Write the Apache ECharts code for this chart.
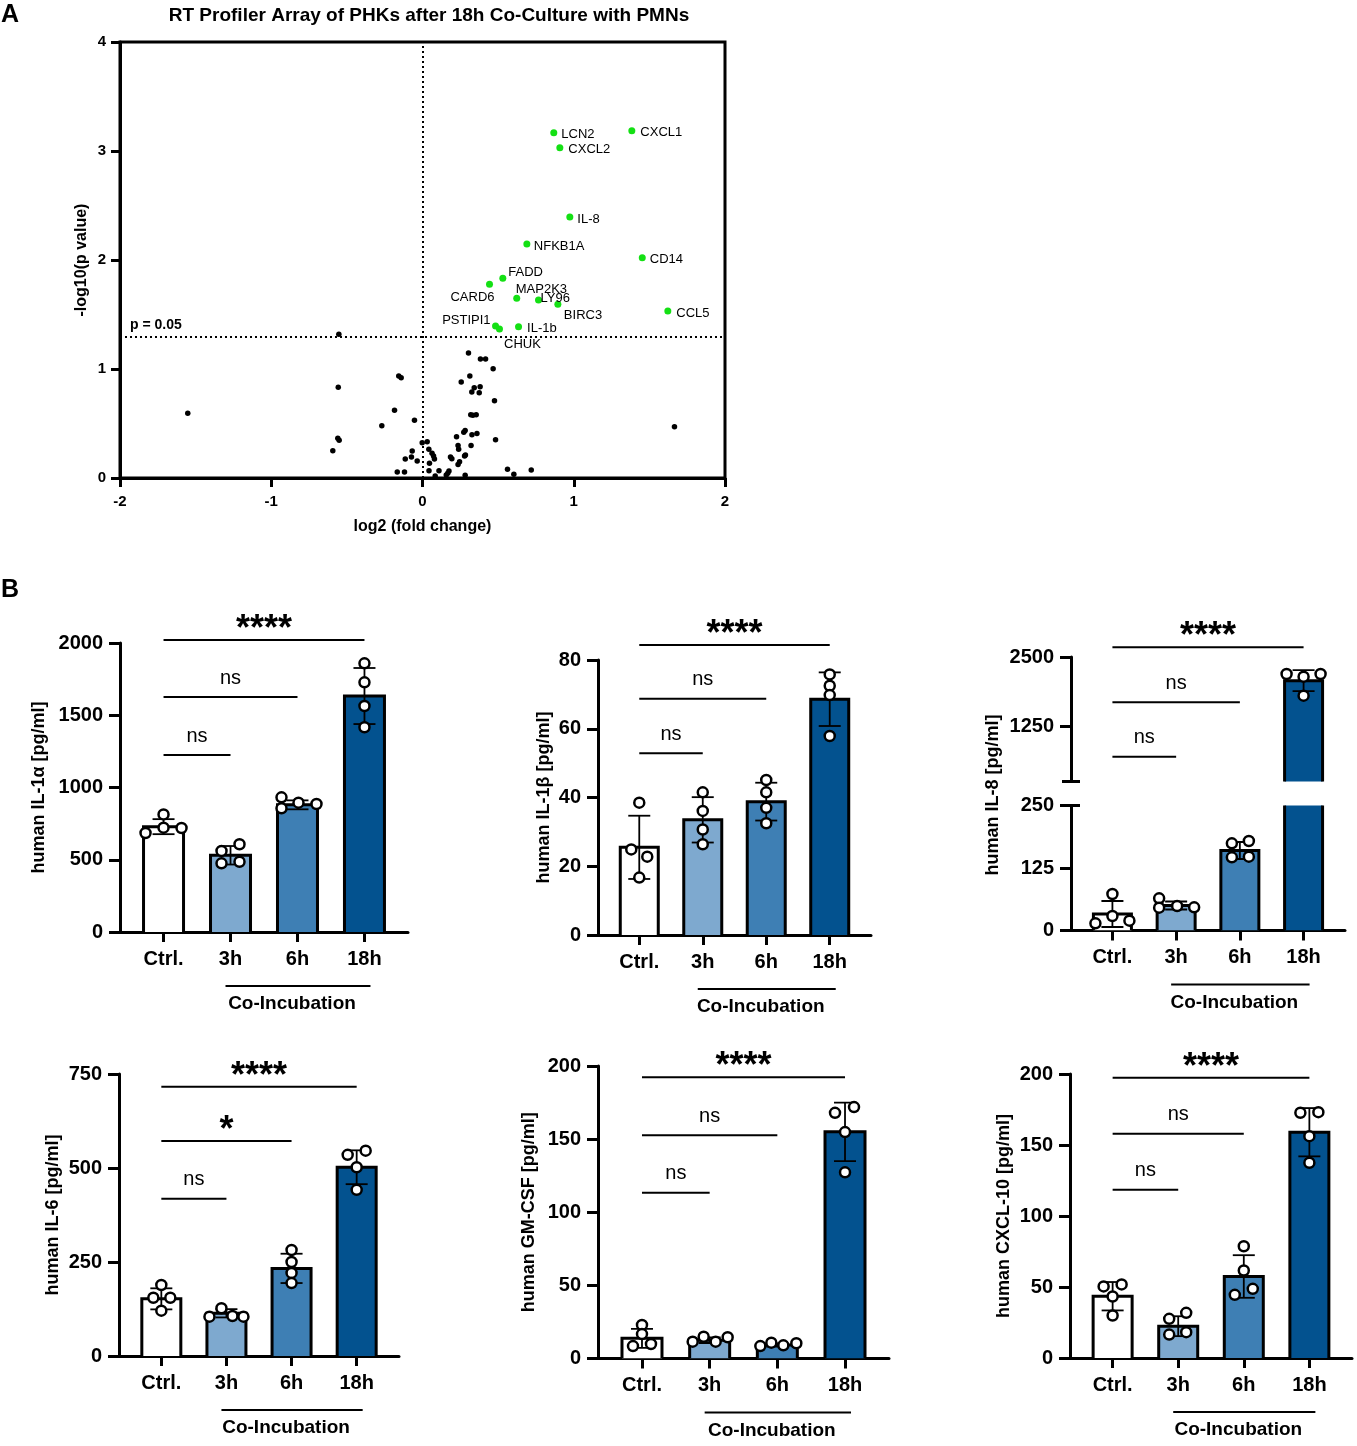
<!DOCTYPE html>
<html><head><meta charset="utf-8">
<script src="https://cdn.jsdelivr.net/npm/echarts@6/dist/echarts.min.js"></script>
<style>html,body{margin:0;padding:0;background:#fff}#c{width:1357px;height:1446px}</style>
</head><body><div id="c"></div>
<script>
// ===================== DATA =====================
// Panel A: volcano plot
const sigGenes   = ['LCN2','CXCL1','CXCL2','IL-8','NFKB1A','CD14','FADD','CARD6','MAP2K3','LY96','BIRC3','CCL5','PSTIPI1','CHUK','IL-1b'];
const sigLog2FC  = [0.868,1.384,0.908,0.974,0.690,1.453,0.531,0.443,0.623,0.767,0.895,1.622,0.483,0.509,0.635];
const sigNegLogP = [3.168,3.186,3.030,2.394,2.147,2.021,1.832,1.777,1.649,1.633,1.594,1.532,1.394,1.367,1.388];
const nsLog2FC = [-0.553,-0.557,-1.552,-0.157,-0.141,-0.185,-0.269,-0.053,-0.560,-0.551,-0.593,-0.068,-0.114,-0.073,-0.035,-0.167,-0.119,
  -0.002,0.031,0.042,0.063,0.073,0.079,0.046,0.043,0.084,0.109,0.157,0.175,0.167,0.185,0.194,0.225,0.282,0.273,0.235,0.239,0.278,0.284,
  0.321,0.327,0.360,0.245,0.235,0.282,0.483,0.562,0.604,0.719,1.666,0.304,0.383,0.417,0.467,0.313,0.256,0.381,0.342,0.326,0.375,0.476,
  0.319,0.355,0.333];
const nsNegLogP = [1.318,0.832,0.594,0.936,0.920,0.621,0.480,0.529,0.364,0.346,0.250,0.248,0.174,0.193,0.156,0.055,0.055,
  0.324,0.333,0.263,0.227,0.202,0.174,0.135,0.067,0.018,0.067,0.028,0.064,0.043,0.193,0.177,0.379,0.436,0.419,0.298,0.264,0.202,0.211,
  0.298,0.397,0.408,0.150,0.124,0.025,0.351,0.080,0.034,0.073,0.471,1.147,1.092,1.092,1.003,0.936,0.881,0.838,0.828,0.789,0.783,0.709,
  0.581,0.581,0.575];
const pThreshold = 1.301; // -log10(0.05)

// Panel B: cytokines (groups: Ctrl., 3h, 6h, 18h)
const groups = ['Ctrl.','3h','6h','18h'];

const il1aMean = [729, 531, 880, 1633];
const il1aSD   = [52, 64, 31, 194];
const il1aPts  = [[685,814,722,720],[561,607,475,486],[932,856,895,886],[1859,1728,1564,1417]];
const il1aSig  = [[0,3,2021,'****'],[0,2,1626,'ns'],[0,1,1225,'ns']];

const il1bMean = [25.5, 33.5, 38.8, 68.6];
const il1bSD   = [9.2, 6.6, 5.5, 7.8];
const il1bPts  = [[38.5,24.9,22.8,16.7],[41.5,36.1,30.7,26.4],[45.1,41.5,37.0,32.5],[75.8,72.5,69.8,57.9]];
const il1bSig  = [[0,3,84.4,'****'],[0,2,68.7,'ns'],[0,1,52.9,'ns']];

const il8Mean = [33, 50, 160, 2072];
const il8SD   = [26, 8, 17, 190];
const il8Pts  = [[73,29,14.4,19.6],[64.4,45.6,49,46.4],[174.4,179,146.4,147.6],[2193,2144,2193,1801]];
const il8Sig  = [[0,3,2675,'****'],[0,2,1681,'ns'],[0,1,698,'ns']];

const il6Mean = [152, 113.6, 233, 502];
const il6SD   = [28, 11, 39, 45];
const il6Pts  = [[188.9,155,155,120.5],[126.9,104.6,106.4,104.6],[282,250,221,194],[535,546,502,442]];
const il6Sig  = [[0,3,716,'****'],[0,2,572,'*'],[0,1,418,'ns']];

const gmcsfMean = [13.8, 12.5, 9.2, 155];
const gmcsfSD   = [6.5, 1.9, 1.1, 20];
const gmcsfPts  = [[22.9,16.7,8.5,9.9],[11.5,14.9,11.5,14.5],[8.5,10.8,9.0,10.4],[168,171.9,154.8,127.3]];
const gmcsfSig  = [[0,3,192.3,'****'],[0,2,152.6,'ns'],[0,1,113.4,'ns']];

const cxcl10Mean = [43.5, 22.4, 57.4, 159];
const cxcl10SD   = [10, 7, 15, 17];
const cxcl10Pts  = [[50.4,51.8,43.3,29.9],[31.8,27.6,16.5,18.2],[78.7,61.6,44.5,48.7],[172.7,173.1,156.2,137.5]];
const cxcl10Sig  = [[0,3,197.3,'****'],[0,2,157.9,'ns'],[0,1,118.4,'ns']];

// ===================== STYLE / LAYOUT =====================
const FONT = '"Liberation Sans", Arial, Helvetica, sans-serif';
const BAR_COLORS = ['#ffffff','#7ea9cf','#3e7fb4','#03528f'];
const XMIN = -0.65, XMAX = 3.65;
const plainNum = v => String(v);

// horizontal jitter of individual points (pixels)
const jitter = {
  il1a:  [[-18,0,0,18],[-9,9,-9,9],[-16,-16,1,19],[0,0,0,0]],
  il1b:  [[0,-8,8,0],[0,0,0,0],[0,0,0,0],[0,0,0,0]],
  il8:   [[0,0,-17,17],[-17,-17,1,18],[-8,9,-8,9],[-17,0,17,0]],
  il6:   [[0,-8,9,0],[-5,-17,6,17],[0,0,0,0],[-9,9,0,0]],
  gmcsf: [[0,0,-9,9],[-17,-6,6,18],[-17,-6,6,19],[-10,9,0,0]],
  cxcl10:[[-9,9,0,0],[8,-9,-9,8],[0,0,-9,9],[-9,9,0,0]]
};

const volcanoLabelPlacement = {
  'LCN2':['right',[-1,1.5]], 'CXCL1':['right',[0,2]], 'CXCL2':['right',[0,1.5]], 'IL-8':['right',[-1,2]],
  'NFKB1A':['right',[-1.5,2]], 'CD14':['right',[-1,2]], 'FADD':['right',[-3,-6]], 'CARD6':['left',[13.5,13]],
  'MAP2K3':['right',[-9.5,-9]], 'LY96':['right',[-6.5,-2]], 'BIRC3':['right',[-2.5,11]], 'CCL5':['right',[0,2]],
  'PSTIPI1':['left',[3.5,-6]], 'CHUK':['bottom',[23,0]], 'IL-1b':['right',[0,2]]
};

const grids = [], xAxes = [], yAxes = [], series = [];

// ---------- Panel A ----------
grids.push({left:120, top:42, width:605, height:436, show:true, borderColor:'#000', borderWidth:3, backgroundColor:'rgba(0,0,0,0)'});
xAxes.push({type:'value', gridIndex:0, min:-2, max:2, interval:1,
  name:'log2 (fold change)', nameLocation:'middle', nameGap:41,
  nameTextStyle:{fontSize:16, fontWeight:'bold', color:'#000', fontFamily:FONT},
  axisLine:{show:true, onZero:false, lineStyle:{color:'#000', width:3}},
  axisTick:{show:true, length:9, lineStyle:{color:'#000', width:3}},
  axisLabel:{fontSize:15, fontWeight:'bold', color:'#000', margin:16, fontFamily:FONT},
  splitLine:{show:false}});
yAxes.push({type:'value', gridIndex:0, min:0, max:4, interval:1,
  name:'-log10(p value)', nameLocation:'middle', nameGap:30,
  nameTextStyle:{fontSize:16, fontWeight:'bold', color:'#000', fontFamily:FONT},
  axisLine:{show:true, onZero:false, lineStyle:{color:'#000', width:3}},
  axisTick:{show:true, length:9, lineStyle:{color:'#000', width:3}},
  axisLabel:{fontSize:15, fontWeight:'bold', color:'#000', margin:14, fontFamily:FONT},
  splitLine:{show:false}});
series.push({type:'scatter', xAxisIndex:0, yAxisIndex:0, z:3,
  data: nsLog2FC.map((x,i)=>[x, nsNegLogP[i]]),
  symbolSize:5.5, itemStyle:{color:'#000', opacity:1},
  markLine:{silent:true, symbol:['none','none'], animation:false,
    lineStyle:{type:[2,3], color:'#000', width:2},
    label:{show:false},
    data:[{xAxis:0},
      {yAxis:pThreshold, label:{show:true, formatter:'p = 0.05', position:'insideStartTop', distance:4,
        fontWeight:'bold', fontSize:14, color:'#000', fontFamily:FONT, padding:[0,0,0,6]}}]}
});
series.push({type:'scatter', xAxisIndex:0, yAxisIndex:0, z:4,
  data: sigGenes.map((g,i)=>{
    const pl = volcanoLabelPlacement[g];
    return {name:g, value:[sigLog2FC[i], sigNegLogP[i]], label:{position:pl[0], offset:pl[1]}};
  }),
  symbolSize:7, itemStyle:{color:'#14e014', opacity:1},
  label:{show:true, formatter:'{b}', fontSize:13, color:'#000', distance:5, fontFamily:FONT}
});

// ---------- Panel B helpers ----------
function makeBarRender(barW){
  return function(params, api){
    const x = api.value(0), v = api.value(1);
    const p = api.coord([x, v]);
    const b = api.coord([x, 0]);
    const hw = barW/2;
    return {type:'group', children:[
      {type:'rect', shape:{x:p[0]-hw, y:p[1], width:hw*2, height:b[1]-p[1]}, style:{fill:BAR_COLORS[params.dataIndex]}},
      {type:'polyline', shape:{points:[[p[0]-hw,b[1]],[p[0]-hw,p[1]],[p[0]+hw,p[1]],[p[0]+hw,b[1]]]},
        style:{stroke:'#000', lineWidth:3, fill:'none'}}
    ]};
  };
}
function renderErr(params, api){
  const x = api.value(0), m = api.value(1), s = api.value(2);
  const t = api.coord([x, m+s]), b = api.coord([x, m-s]);
  const cw = 11, st = {stroke:'#000', lineWidth:1.8};
  return {type:'group', children:[
    {type:'line', shape:{x1:t[0], y1:t[1], x2:b[0], y2:b[1]}, style:st},
    {type:'line', shape:{x1:t[0]-cw, y1:t[1], x2:t[0]+cw, y2:t[1]}, style:st},
    {type:'line', shape:{x1:b[0]-cw, y1:b[1], x2:b[0]+cw, y2:b[1]}, style:st}
  ]};
}
function makeSigRender(sigArr){
  return function(params, api){
    const s = sigArr[params.dataIndex];
    const a = api.coord([s[0], s[2]]), c = api.coord([s[1], s[2]]);
    const isStar = s[3].indexOf('*') >= 0;
    return {type:'group', children:[
      {type:'line', shape:{x1:a[0], y1:a[1], x2:c[0], y2:c[1]}, style:{stroke:'#000', lineWidth:2}},
      {type:'text', x:(a[0]+c[0])/2, y:a[1] - (isStar ? 10 : 19),
        style:{text:s[3], align:'center', verticalAlign:'middle', fill:'#000',
          font: isStar ? ('bold 36px ' + FONT) : ('20px ' + FONT)}}
    ]};
  };
}
function makeDecorRender(ymin){
  return function(params, api){
    const a = api.coord([1, ymin]), c = api.coord([3, ymin]);
    const x1 = a[0]-5, x2 = c[0]+6, y = a[1] + 54;
    return {type:'group', children:[
      {type:'line', shape:{x1:x1, y1:y, x2:x2, y2:y}, style:{stroke:'#000', lineWidth:1.8}},
      {type:'text', x:(x1+x2)/2 - 6, y:y + 18,
        style:{text:'Co-Incubation', align:'center', verticalAlign:'middle', fill:'#000', font:'bold 19px ' + FONT}}
    ]};
  };
}
function makeBreakRender(xmin, yv){
  return function(params, api){
    const p = api.coord([xmin, yv]);
    return {type:'line', shape:{x1:p[0]-9, y1:p[1], x2:p[0]+9, y2:p[1]}, style:{stroke:'#000', lineWidth:3}};
  };
}

function xAxisCfg(gi, show){
  return {type:'value', gridIndex:gi, min:XMIN, max:XMAX, show:show,
    axisLine:{show:true, onZero:false, lineStyle:{color:'#000', width:3}},
    axisTick:{show:true, customValues:[0,1,2,3], length:10, lineStyle:{color:'#000', width:3}},
    axisLabel:{show:true, customValues:[0,1,2,3], formatter:v=>groups[Math.round(v)],
      fontSize:20, fontWeight:'bold', color:'#000', margin:17, fontFamily:FONT},
    splitLine:{show:false}};
}
function yAxisCfg(gi, min, max, interval, name, nameGap, custom){
  const c = {type:'value', gridIndex:gi, min:min, max:max,
    axisLine:{show:true, onZero:false, lineStyle:{color:'#000', width:3}},
    axisTick:{show:true, length:11, lineStyle:{color:'#000', width:3}},
    axisLabel:{fontSize:20, fontWeight:'bold', color:'#000', margin:17, fontFamily:FONT, formatter:plainNum},
    splitLine:{show:false}};
  if (interval) c.interval = interval;
  if (custom) { c.axisTick.customValues = custom; c.axisLabel.customValues = custom; }
  if (name) {
    c.name = name; c.nameLocation = 'middle'; c.nameGap = nameGap;
    c.nameTextStyle = {fontSize:18, fontWeight:'bold', color:'#000', fontFamily:FONT};
  }
  return c;
}
function addSeriesToGrid(ai, mean, sd, pts, jit, barW, opts){
  const barData = mean.map((m,i)=>[i, m]);
  series.push({type:'custom', xAxisIndex:ai, yAxisIndex:ai, z:2, clip:true,
    renderItem:makeBarRender(barW), data:barData});
  series.push({type:'custom', xAxisIndex:ai, yAxisIndex:ai, z:3, clip:true,
    renderItem:renderErr, data:mean.map((m,i)=>[i, m, sd[i]])});
  series.push({type:'scatter', xAxisIndex:ai, yAxisIndex:ai, z:4, clip:true,
    symbol:'circle', symbolSize:10,
    itemStyle:{color:'#fff', borderColor:'#000', borderWidth:2.5, opacity:1},
    data: pts.flatMap((arr,g)=>arr.map((v,k)=>({value:[g, v], symbolOffset:[jit[g][k], 0]})))});
  if (opts.sig) series.push({type:'custom', xAxisIndex:ai, yAxisIndex:ai, z:5, clip:false,
    renderItem:makeSigRender(opts.sig), data:opts.sig.map(s=>[s[0], s[2]])});
  if (opts.decor) series.push({type:'custom', xAxisIndex:ai, yAxisIndex:ai, z:5, clip:false,
    renderItem:makeDecorRender(opts.ymin), data:[[1, opts.ymin]]});
  if (opts.breakAt !== undefined) series.push({type:'custom', xAxisIndex:ai, yAxisIndex:ai, z:6, clip:false,
    renderItem:makeBreakRender(XMIN, opts.breakAt), data:[[XMIN, opts.breakAt]]});
}

// ---------- Standard panels ----------
const panels = [
  {name:'human IL-1\u03b1 [pg/ml]', mean:il1aMean, sd:il1aSD, pts:il1aPts, jit:jitter.il1a, sig:il1aSig,
   box:{left:120, top:643, width:288, height:289}, yMax:2000, yInt:500, nameGap:72, barW:40},
  {name:'human IL-1\u03b2 [pg/ml]', mean:il1bMean, sd:il1bSD, pts:il1bPts, jit:jitter.il1b, sig:il1bSig,
   box:{left:598, top:660, width:273, height:275}, yMax:80, yInt:20, nameGap:45, barW:38},
  {name:'human IL-6 [pg/ml]', mean:il6Mean, sd:il6SD, pts:il6Pts, jit:jitter.il6, sig:il6Sig,
   box:{left:119, top:1074, width:280, height:282}, yMax:750, yInt:250, nameGap:57, barW:39},
  {name:'human GM-CSF [pg/ml]', mean:gmcsfMean, sd:gmcsfSD, pts:gmcsfPts, jit:jitter.gmcsf, sig:gmcsfSig,
   box:{left:598, top:1066, width:291, height:292.5}, yMax:200, yInt:50, nameGap:60, barW:40},
  {name:'human CXCL-10 [pg/ml]', mean:cxcl10Mean, sd:cxcl10SD, pts:cxcl10Pts, jit:jitter.cxcl10, sig:cxcl10Sig,
   box:{left:1070, top:1074, width:282, height:284}, yMax:200, yInt:50, nameGap:57, barW:39}
];
panels.forEach(p=>{
  const gi = grids.length;
  grids.push(p.box);
  xAxes.push(xAxisCfg(gi, true));
  yAxes.push(yAxisCfg(gi, 0, p.yMax, p.yInt, p.name, p.nameGap));
  addSeriesToGrid(gi, p.mean, p.sd, p.pts, p.jit, p.barW, {sig:p.sig, decor:true, ymin:0});
});

// ---------- IL-8 panel with broken axis ----------
{
  const gb = grids.length;           // lower segment 0..250
  grids.push({left:1071, top:805.5, width:274, height:125});
  xAxes.push(xAxisCfg(gb, true));
  yAxes.push(yAxisCfg(gb, 0, 250, 125, null));
  addSeriesToGrid(gb, il8Mean, il8SD, il8Pts, jitter.il8, 38, {decor:true, ymin:0, breakAt:250});

  const gt = grids.length;           // upper segment 250..2500
  grids.push({left:1071, top:657, width:274, height:124.5});
  xAxes.push(xAxisCfg(gt, false));
  yAxes.push(yAxisCfg(gt, 250, 2500, null, null, 0, [1250, 2500]));
  addSeriesToGrid(gt, il8Mean, il8SD, il8Pts, jitter.il8, 38, {sig:il8Sig, breakAt:250});
}

const option = {
  animation:false,
  backgroundColor:'#fff',
  textStyle:{fontFamily:FONT},
  title:{text:'RT Profiler Array of PHKs after 18h Co-Culture with PMNs', left:424, top:1, textAlign:'center',
    textStyle:{fontSize:19, fontWeight:'bold', color:'#000', fontFamily:FONT}},
  grid:grids, xAxis:xAxes, yAxis:yAxes, series:series,
  graphic:[
    {type:'text', left:1, top:3, style:{text:'A', font:'bold 25px ' + FONT, fill:'#000'}},
    {type:'text', left:1, top:578, style:{text:'B', font:'bold 25px ' + FONT, fill:'#000'}},
    {type:'text', x:993, y:795, rotation:Math.PI/2,
      style:{text:'human IL-8 [pg/ml]', align:'center', verticalAlign:'middle', font:'bold 18px ' + FONT, fill:'#000'}}
  ]
};
const chart = echarts.init(document.getElementById('c'), null, {renderer:'canvas'});
chart.setOption(option);
</script></body></html>
